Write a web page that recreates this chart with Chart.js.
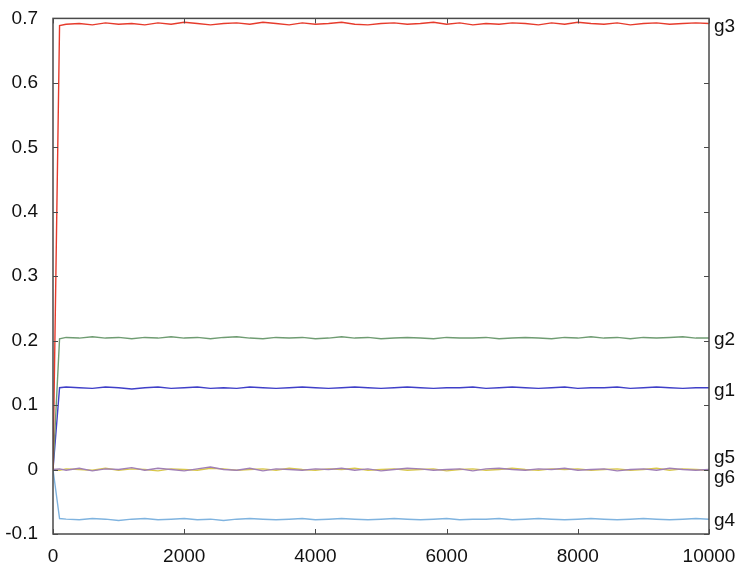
<!DOCTYPE html>
<html lang="en">
<head>
<meta charset="UTF-8">
<title>g1-g6 traces</title>
<script src="https://cdn.jsdelivr.net/npm/chart.js@4.4.0/dist/chart.umd.min.js"></script>
<style>
  html, body { margin: 0; padding: 0; background: #fff; }
  #wrap { width: 741px; height: 567px; }
</style>
</head>
<body>
<div id="wrap"><canvas id="traces" width="741" height="567"></canvas></div>
<script>
// sample positions (iterations)
var steps = [
  0, 100, 200, 400, 600, 800, 1000, 1200, 1400, 1600,
  1800, 2000, 2200, 2400, 2600, 2800, 3000, 3200, 3400, 3600,
  3800, 4000, 4200, 4400, 4600, 4800, 5000, 5200, 5400, 5600,
  5800, 6000, 6200, 6400, 6600, 6800, 7000, 7200, 7400, 7600,
  7800, 8000, 8200, 8400, 8600, 8800, 9000, 9200, 9400, 9600,
  9800, 10000
];

var g3 = [
  0, 0.689, 0.691, 0.692, 0.690, 0.693, 0.691, 0.692, 0.690, 0.693,
  0.691, 0.694, 0.692, 0.690, 0.692, 0.693, 0.691, 0.694, 0.692, 0.690,
  0.693, 0.691, 0.692, 0.694, 0.691, 0.690, 0.692, 0.693, 0.691, 0.692,
  0.694, 0.691, 0.693, 0.690, 0.692, 0.691, 0.693, 0.692, 0.690, 0.693,
  0.691, 0.694, 0.692, 0.691, 0.693, 0.690, 0.692, 0.693, 0.691, 0.692,
  0.693, 0.692
];
var g2 = [
  0, 0.203, 0.205, 0.204, 0.206, 0.204, 0.205, 0.203, 0.205, 0.204,
  0.206, 0.204, 0.205, 0.203, 0.205, 0.206, 0.204, 0.203, 0.205, 0.204,
  0.205, 0.203, 0.204, 0.206, 0.204, 0.205, 0.203, 0.204, 0.205, 0.204,
  0.203, 0.205, 0.204, 0.204, 0.205, 0.203, 0.204, 0.205, 0.204, 0.203,
  0.205, 0.204, 0.206, 0.204, 0.205, 0.203, 0.205, 0.204, 0.205, 0.206,
  0.204, 0.204
];
var g1 = [
  0, 0.127, 0.128, 0.127, 0.126, 0.128, 0.127, 0.125, 0.127, 0.128,
  0.126, 0.127, 0.128, 0.126, 0.127, 0.126, 0.128, 0.127, 0.126, 0.127,
  0.128, 0.127, 0.126, 0.127, 0.128, 0.127, 0.126, 0.127, 0.128, 0.127,
  0.126, 0.127, 0.127, 0.128, 0.126, 0.127, 0.128, 0.127, 0.126, 0.127,
  0.128, 0.126, 0.127, 0.127, 0.128, 0.126, 0.127, 0.128, 0.127, 0.126,
  0.127, 0.127
];
var g5 = [
  0, 0.001, -0.001, 0.002, -0.002, 0.001, 0.000, 0.003, -0.001, 0.002,
  0.000, -0.002, 0.001, 0.004, 0.000, -0.001, 0.002, -0.002, 0.001, 0.000,
  -0.001, 0.001, 0.000, 0.002, -0.001, 0.001, -0.002, 0.000, 0.002, 0.001,
  -0.001, 0.000, 0.001, -0.002, 0.001, 0.002, 0.000, -0.001, 0.001, 0.000,
  0.002, -0.001, 0.000, 0.001, -0.002, 0.000, 0.001, -0.001, 0.002, 0.000,
  -0.001, 0.000
];
var g6 = [
  0, -0.001, 0.001, 0.000, -0.001, 0.002, -0.001, 0.001, 0.000, -0.002,
  0.001, 0.000, -0.001, 0.002, 0.001, -0.001, 0.000, 0.001, -0.001, 0.002,
  0.000, -0.001, 0.001, 0.000, 0.002, -0.001, 0.000, 0.001, -0.001, 0.000,
  0.001, -0.002, 0.000, 0.001, -0.001, 0.000, 0.002, 0.000, -0.001, 0.001,
  0.000, 0.001, -0.001, 0.000, 0.001, -0.001, 0.000, 0.002, -0.001, 0.001,
  0.000, -0.001
];
var g4 = [
  0, -0.076, -0.077, -0.078, -0.076, -0.077, -0.079, -0.077, -0.076, -0.078,
  -0.077, -0.076, -0.078, -0.077, -0.079, -0.077, -0.076, -0.077, -0.078, -0.077,
  -0.076, -0.078, -0.077, -0.076, -0.077, -0.078, -0.077, -0.076, -0.077, -0.078,
  -0.077, -0.076, -0.078, -0.077, -0.077, -0.076, -0.078, -0.077, -0.076, -0.077,
  -0.078, -0.077, -0.076, -0.077, -0.078, -0.077, -0.076, -0.077, -0.078, -0.077,
  -0.076, -0.077
];

var seriesNames = ['g3', 'g2', 'g1', 'g5', 'g6', 'g4'];
var seriesValues = [g3, g2, g1, g5, g6, g4];
var seriesColors = ['#e63b2c', '#6f9c72', '#3f3fc8', '#a07fb6', '#d9c84a', '#7fb3df'];

var xTicks = [0, 2000, 4000, 6000, 8000, 10000];
var yTicks = [-0.1, 0, 0.1, 0.2, 0.3, 0.4, 0.5, 0.6, 0.7];

// small vertical shifts of the end labels so g5/g6 don't collide
var labelNudge = { g3: 3, g2: 2, g1: 3, g5: -12, g6: 8, g4: 2 };

var datasets = seriesNames.map(function (name, i) {
  return {
    label: name,
    data: steps.map(function (s, k) { return { x: s, y: seriesValues[i][k] }; }),
    borderColor: seriesColors[i],
    borderWidth: 1.4,
    pointRadius: 0,
    tension: 0,
    fill: false
  };
});

var FONT = '"Liberation Sans", Arial, Helvetica, sans-serif';

// frame, inward ticks on all sides, and end labels
var framePlugin = {
  id: 'frame',
  afterDatasetsDraw: function (chart) {
    var ctx = chart.ctx;
    var a = chart.chartArea;
    var xs = chart.scales.x, ys = chart.scales.y;
    ctx.save();
    ctx.strokeStyle = '#4a4a4a';
    ctx.lineWidth = 1.5;
    ctx.strokeRect(a.left, a.top, a.right - a.left, a.bottom - a.top);
    ctx.lineWidth = 1;
    ctx.beginPath();
    xTicks.forEach(function (t) {
      var px = Math.round(xs.getPixelForValue(t)) + 0.5;
      ctx.moveTo(px, a.bottom); ctx.lineTo(px, a.bottom - 5);
      ctx.moveTo(px, a.top); ctx.lineTo(px, a.top + 5);
    });
    yTicks.forEach(function (t) {
      var py = Math.round(ys.getPixelForValue(t)) + 0.5;
      ctx.moveTo(a.left, py); ctx.lineTo(a.left + 5, py);
      ctx.moveTo(a.right, py); ctx.lineTo(a.right - 5, py);
    });
    ctx.stroke();

    ctx.fillStyle = '#111';
    ctx.font = '19px ' + FONT;
    ctx.textBaseline = 'middle';
    ctx.textAlign = 'left';
    seriesNames.forEach(function (name, i) {
      var vals = seriesValues[i];
      var py = ys.getPixelForValue(vals[vals.length - 1]) + labelNudge[name];
      ctx.fillText(name, a.right + 5, py);
    });
    ctx.restore();
  }
};

new Chart(document.getElementById('traces'), {
  type: 'line',
  data: { datasets: datasets },
  options: {
    responsive: false,
    animation: false,
    layout: { padding: { left: 0, right: 32, top: 16, bottom: 0 } },
    plugins: { legend: { display: false }, tooltip: { enabled: false } },
    scales: {
      x: {
        type: 'linear',
        min: 0,
        max: 10000,
        afterBuildTicks: function (s) { s.ticks = xTicks.map(function (v) { return { value: v }; }); },
        afterFit: function (s) { s.height = 33; },
        ticks: {
          color: '#111',
          font: { size: 19, family: FONT },
          padding: 3,
          maxRotation: 0,
          callback: function (v) { return String(v); }
        },
        grid: { display: false },
        border: { display: false }
      },
      y: {
        min: -0.1,
        max: 0.7,
        afterBuildTicks: function (s) { s.ticks = yTicks.map(function (v) { return { value: v }; }); },
        afterFit: function (s) { s.width = 53; },
        ticks: {
          color: '#111',
          font: { size: 19, family: FONT },
          padding: 7,
          callback: function (v) { return String(Number(v.toFixed(1))); }
        },
        grid: { display: false },
        border: { display: false }
      }
    }
  },
  plugins: [framePlugin]
});
</script>
</body>
</html>
